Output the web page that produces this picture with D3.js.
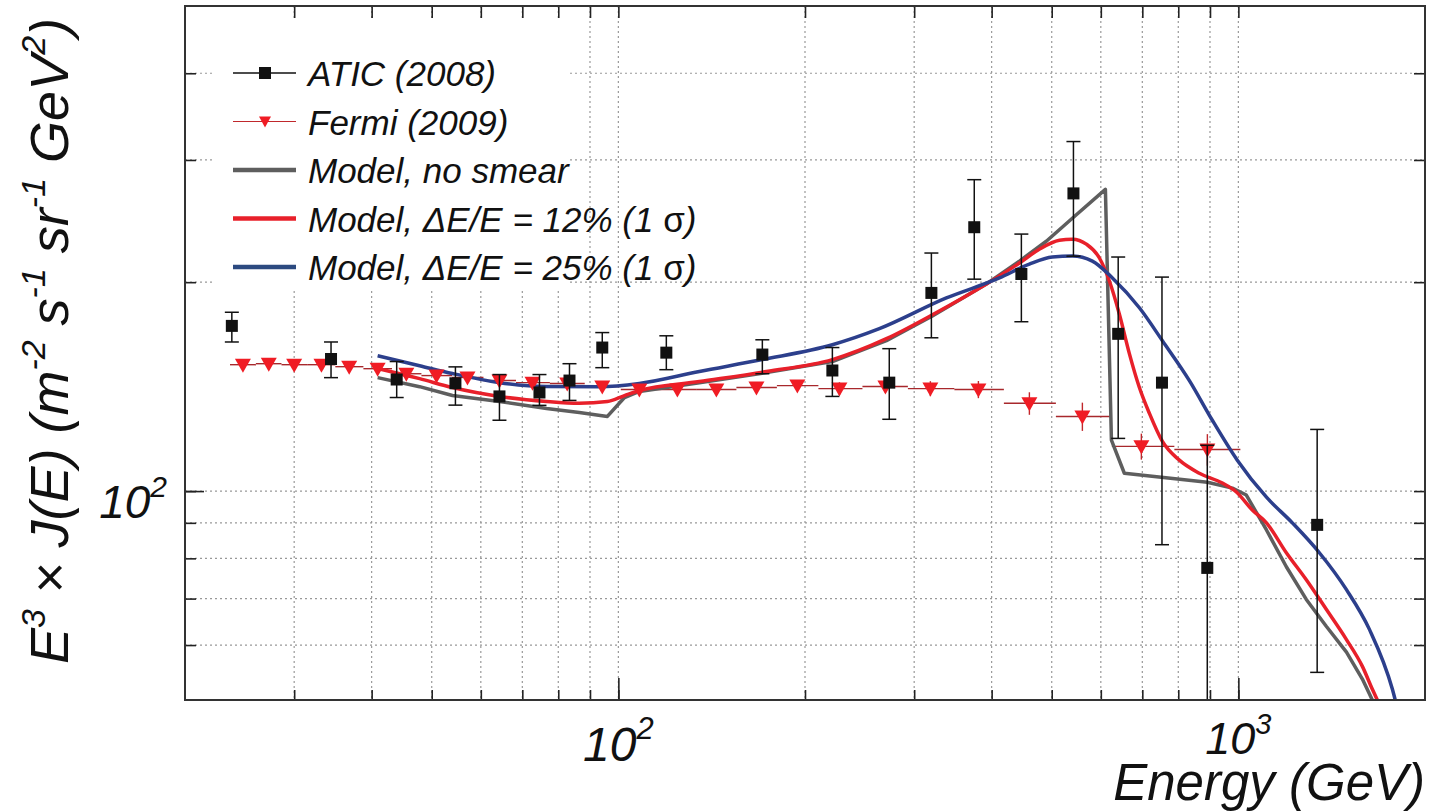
<!DOCTYPE html>
<meta charset="utf-8">
<style>
body { margin: 0; background: #fff; }
svg text { font-family: "Liberation Sans", Arial, sans-serif; font-style: italic; fill: #111; }
.grid line { stroke: #999; stroke-width: 1.2; stroke-dasharray: 2,3; }
.ticks line { stroke: #222; stroke-width: 1.6; }
</style>
<svg width="1431" height="812"></svg>
<script src="https://d3js.org/d3.v7.min.js"></script>
<script>

// ATIC (2008): energy, value, upper and lower ends of the error bar
var atEnergy = [23.8, 34.4, 43.9, 54.6, 64.3, 74.6, 83.4, 94.2, 119.5, 170.7, 221.4, 273.5, 319.8, 375, 446.7, 542, 640, 753, 891, 1340];
var atValue  = [173, 155, 144.8, 143, 136.9, 138.7, 144.3, 161, 158.3, 157.3, 149.2, 143.3, 193, 240, 205.5, 268.5, 168.5, 143.3, 77.5, 89.4];
var atHigh   = [181, 164, 153.7, 151, 147.2, 147.2, 152.6, 169.2, 167.4, 165.2, 161, 160.4, 220.3, 281, 234.6, 318.9, 217.4, 203.4, 116.4, 122.7];
var atLow    = [164, 145.7, 136.4, 133, 126.5, 132.9, 135.1, 150.6, 149.6, 147.6, 136.9, 126.9, 166.3, 202, 175.4, 218, 119.1, 83.7, 40, 54.8];

// Fermi (2009)
var fermiEnergy = [24.8, 27.3, 30.0, 33.2, 36.8, 40.9, 45.5, 50.9, 57.1, 64.3, 72.7, 82.7, 94.2, 108.1, 124.5, 143.9, 167.0, 194.4, 227.3, 269.6, 318.6, 380.8, 460.2, 560.3, 697.5, 891.3];
var fermiValue  = [152.1, 152.6, 152.1, 152.1, 151.1, 150.1, 147.6, 146.7, 145.8, 144.3, 143.3, 142.9, 141.5, 140.1, 140.1, 140.1, 141.0, 141.9, 140.5, 141.5, 140.5, 140.1, 133.8, 128.1, 116.0, 114.8];
var fermiErr    = [2, 2, 2, 2, 2, 2, 2, 2, 2, 2, 2, 2, 2, 2, 2, 2, 2.5, 2.5, 3, 3, 3.5, 4, 5, 6, 5, 6];

// model, no smear
var noSmearE = [40.9, 47.8, 54.0, 64.3, 76.6, 86.5, 96.0, 102.3, 108.1, 135.1, 173.3, 221.4, 270.6, 321.0, 392.3, 443.5, 490.1, 539.8, 610.3, 624.1, 654.8, 891.3, 977.9, 1030, 1110, 1195, 1287, 1387, 1494, 1585, 1657];
var noSmearV = [145.7, 141.4, 137.3, 134.6, 131.5, 129.8, 128.1, 136.4, 139.2, 143.3, 148.2, 153.7, 164.7, 178.8, 198.8, 214.5, 229.1, 247.3, 272.1, 118.4, 106.1, 103.0, 101.0, 98.7, 87.9, 77.8, 69.8, 63.8, 58.6, 53.6, 49.3];

// model, dE/E = 12%
var smear12E = [40.9, 47.8, 54.0, 64.3, 76.6, 86.5, 96.0, 102.3, 108.1, 135.1, 173.3, 221.4, 270.6, 321.0, 392.3, 443.5, 477.5, 514.4, 539.8, 568.6, 596.9, 619.4, 642.7, 667.1, 692.4, 718.7, 754.2, 803.2, 865.0, 942.3, 992.6, 1053, 1110, 1195, 1287, 1387, 1494, 1585, 1645, 1688];
var smear12V = [150.2, 145.2, 141.0, 136.9, 134.6, 133.8, 134.6, 137.3, 139.6, 143.8, 148.7, 154.7, 165.8, 179.5, 198.8, 213.1, 223.1, 229.9, 230.7, 226.9, 216.7, 200.8, 180.0, 157.8, 141.0, 129.4, 117.9, 110.8, 106.1, 102.7, 99.7, 93.9, 90.0, 81.5, 74.5, 67.5, 61.1, 55.9, 51.8, 49.3];

// model, dE/E = 25%
var smear25E = [40.9, 47.8, 54.0, 64.3, 76.6, 93.2, 108.1, 135.1, 170.7, 221.4, 263.6, 338.1, 411.7, 460.2, 501.2, 539.8, 581.5, 626.4, 692.4, 754.2, 833.7, 907.8, 996, 1110, 1222, 1351, 1494, 1627, 1772, 1798];
var smear25V = [156.7, 151.6, 147.7, 143.3, 141.5, 141.4, 142.9, 148.7, 154.7, 162.5, 171.4, 189.8, 202.8, 212.4, 217.4, 218.1, 214.5, 202.8, 183.7, 164.7, 144.3, 126.5, 110.8, 98.0, 90.0, 81.5, 72.1, 63.2, 51.8, 49.3];

var xGrid = [30, 40, 50, 60, 70, 80, 90, 100, 200, 300, 400, 500, 600, 700, 800, 900, 1000];
var xMajor = [100, 1000];
var yGrid = [60, 70, 80, 90, 100, 200, 300, 400];
var yMajor = [100];

var legendNames = ["ATIC (2008)", "Fermi (2009)", "Model, no smear", "Model, \u0394E/E = 12% (1 ", "Model, \u0394E/E = 25% (1 "];

var svg = d3.select("svg"),
    pLeft = 185, pRight = 1425, pTop = 6, pBottom = 700;

var x = d3.scaleLog().domain([20, 2000]).range([pLeft, pRight]);
var y = d3.scaleLog().domain([50, 500]).range([pBottom, pTop]);

svg.append("defs").append("clipPath").attr("id", "plot")
  .append("rect").attr("x", pLeft).attr("y", pTop).attr("width", pRight - pLeft).attr("height", pBottom - pTop);

// grid
var grid = svg.append("g").attr("class", "grid");
grid.selectAll(".gx").data(xGrid).enter().append("line")
    .attr("x1", function(d) { return x(d); }).attr("x2", function(d) { return x(d); })
    .attr("y1", pTop).attr("y2", pBottom);
grid.selectAll(".gy").data(yGrid).enter().append("line")
    .attr("x1", pLeft).attr("x2", pRight)
    .attr("y1", function(d) { return y(d); }).attr("y2", function(d) { return y(d); });

// legend background hides the grid behind it
svg.append("rect").attr("x", 213).attr("y", 18).attr("width", 357).attr("height", 272).attr("fill", "#fff");

// inward ticks on all four sides
function noDomain(g) { g.select(".domain").remove(); g.attr("class", "ticks"); }
svg.append("g").attr("transform", "translate(0," + pBottom + ")")
  .call(d3.axisBottom(x).tickValues(xGrid).tickSize(-10).tickFormat("")).call(noDomain);
svg.append("g").attr("transform", "translate(0," + pBottom + ")")
  .call(d3.axisBottom(x).tickValues(xMajor).tickSize(-22).tickFormat("")).call(noDomain);
svg.append("g").attr("transform", "translate(0," + pTop + ")")
  .call(d3.axisTop(x).tickValues(xGrid).tickSize(-12).tickFormat("")).call(noDomain);
svg.append("g").attr("transform", "translate(" + pLeft + ",0)")
  .call(d3.axisLeft(y).tickValues(yGrid).tickSize(-11).tickFormat("")).call(noDomain);
svg.append("g").attr("transform", "translate(" + pLeft + ",0)")
  .call(d3.axisLeft(y).tickValues(yMajor).tickSize(-19).tickFormat("")).call(noDomain);
svg.append("g").attr("transform", "translate(" + pRight + ",0)")
  .call(d3.axisRight(y).tickValues(yGrid).tickSize(-11).tickFormat("")).call(noDomain);

// plot contents
var plot = svg.append("g").attr("clip-path", "url(#plot)");

// Fermi horizontal bin bars
var fermiEdges = fermiEnergy.map(function(e, i) {
  var lo = i > 0 ? Math.sqrt(e * fermiEnergy[i - 1]) : e * e / Math.sqrt(e * fermiEnergy[i + 1]);
  var hi = i < fermiEnergy.length - 1 ? Math.sqrt(e * fermiEnergy[i + 1]) : e * e / Math.sqrt(e * fermiEnergy[i - 1]);
  return [lo, hi];
});
plot.append("g").selectAll("line").data(fermiEnergy).enter().append("line")
    .attr("x1", function(d, i) { return x(fermiEdges[i][0]); })
    .attr("x2", function(d, i) { return x(fermiEdges[i][1]); })
    .attr("y1", function(d, i) { return y(fermiValue[i]); })
    .attr("y2", function(d, i) { return y(fermiValue[i]); })
    .attr("stroke", "#a8282c").attr("stroke-width", 1.4);

function zip(a, b) { return a.map(function(d, i) { return [d, b[i]]; }); }
var lineLin = d3.line().x(function(d) { return x(d[0]); }).y(function(d) { return y(d[1]); });
var lineSmooth = d3.line().curve(d3.curveMonotoneX).x(function(d) { return x(d[0]); }).y(function(d) { return y(d[1]); });

plot.append("path").datum(zip(noSmearE, noSmearV)).attr("d", lineLin)
    .attr("fill", "none").attr("stroke", "#5e5e5e").attr("stroke-width", 3.5).attr("stroke-linejoin", "round");
plot.append("path").datum(zip(smear12E, smear12V)).attr("d", lineSmooth)
    .attr("fill", "none").attr("stroke", "#e8202a").attr("stroke-width", 3.5);
plot.append("path").datum(zip(smear25E, smear25V)).attr("d", lineSmooth)
    .attr("fill", "none").attr("stroke", "#2c3f8c").attr("stroke-width", 3.5);

// Fermi vertical errors and triangles
plot.append("g").selectAll("line").data(fermiEnergy).enter().append("line")
    .attr("x1", function(d) { return x(d); }).attr("x2", function(d) { return x(d); })
    .attr("y1", function(d, i) { return y(fermiValue[i] + fermiErr[i]); })
    .attr("y2", function(d, i) { return y(fermiValue[i] - fermiErr[i]); })
    .attr("stroke", "#c0282c").attr("stroke-width", 1.4);
var tri = "M-8,-6L8,-6L0,8Z";
plot.append("g").selectAll("path").data(fermiEnergy).enter().append("path")
    .attr("d", tri)
    .attr("transform", function(d, i) { return "translate(" + x(d) + "," + y(fermiValue[i]) + ")"; })
    .attr("fill", "#f01c24");

// ATIC error bars and squares
var atic = plot.append("g").attr("stroke", "#111").attr("stroke-width", 1.5);
atic.selectAll(".v").data(atEnergy).enter().append("line")
    .attr("x1", function(d) { return x(d); }).attr("x2", function(d) { return x(d); })
    .attr("y1", function(d, i) { return y(atHigh[i]); })
    .attr("y2", function(d, i) { return y(atLow[i]); });
atic.selectAll(".ch").data(atEnergy).enter().append("line")
    .attr("x1", function(d) { return x(d) - 7; }).attr("x2", function(d) { return x(d) + 7; })
    .attr("y1", function(d, i) { return y(atHigh[i]); })
    .attr("y2", function(d, i) { return y(atHigh[i]); });
atic.selectAll(".cl").data(atEnergy).enter().append("line")
    .attr("x1", function(d) { return x(d) - 7; }).attr("x2", function(d) { return x(d) + 7; })
    .attr("y1", function(d, i) { return y(atLow[i]); })
    .attr("y2", function(d, i) { return y(atLow[i]); });
plot.append("g").selectAll("rect").data(atEnergy).enter().append("rect")
    .attr("x", function(d) { return x(d) - 6; })
    .attr("y", function(d, i) { return y(atValue[i]) - 6; })
    .attr("width", 12).attr("height", 12).attr("fill", "#111");

// frame
svg.append("rect").attr("x", pLeft).attr("y", pTop).attr("width", pRight - pLeft).attr("height", pBottom - pTop)
    .attr("fill", "none").attr("stroke", "#333").attr("stroke-width", 2);

// text with superscripts
function richText(t, parts, size, supSize, shift) {
  var up = false;
  parts.forEach(function(p) {
    var s = t.append("tspan").text(p[0]);
    if (p[1]) {
      s.attr("font-size", supSize).attr("dy", up ? 0 : -shift);
      up = true;
    } else {
      s.attr("font-size", size).attr("dy", up ? shift : 0);
      up = false;
    }
  });
}

// tick labels
richText(svg.append("text").attr("x", x(100)).attr("y", 761).attr("text-anchor", "middle"),
  [["10"], ["2", true]], 48, 31, 22);
richText(svg.append("text").attr("x", x(1000)).attr("y", 754).attr("text-anchor", "middle"),
  [["10"], ["3", true]], 45, 29, 20);
richText(svg.append("text").attr("x", 167).attr("y", 518).attr("text-anchor", "end"),
  [["10"], ["2", true]], 46, 30, 21);

// axis titles
svg.append("text").attr("x", 1425).attr("y", 800).attr("text-anchor", "end")
    .attr("font-size", 51).text("Energy (GeV)");
richText(svg.append("text").attr("transform", "translate(68,341) rotate(-90)").attr("text-anchor", "middle"),
  [["E"], ["3", true], [" \u00d7 J(E) (m"], ["-2", true], [" s"], ["-1", true], [" sr"], ["-1", true], [" GeV"], ["2", true], [")"]],
  54, 34, 23);

// legend
var lg = svg.append("g");
var rowY = function(i) { return 73 + i * 48.5; };
lg.selectAll("text").data(legendNames).enter().append("text")
    .attr("x", 308).attr("y", function(d, i) { return rowY(i) + 13; })
    .attr("font-size", 35)
    .each(function(d, i) {
      var t = d3.select(this).text(d);
      if (i >= 3) {
        t.append("tspan").attr("font-style", "normal").text("\u03c3");
        t.append("tspan").text(")");
      }
    });
lg.append("line").attr("x1", 233).attr("x2", 296).attr("y1", rowY(0)).attr("y2", rowY(0)).attr("stroke", "#111").attr("stroke-width", 1.6);
lg.append("rect").attr("x", 259).attr("y", rowY(0) - 6).attr("width", 12).attr("height", 12).attr("fill", "#111");
lg.append("line").attr("x1", 233).attr("x2", 296).attr("y1", rowY(1)).attr("y2", rowY(1)).attr("stroke", "#c0282c").attr("stroke-width", 1.2);
lg.append("path").attr("d", "M-6,-5L6,-5L0,6Z").attr("transform", "translate(265," + rowY(1) + ")").attr("fill", "#f01c24");
[["#5e5e5e", 2], ["#e8202a", 3], ["#2c4a80", 4]].forEach(function(c) {
  lg.append("line").attr("x1", 233).attr("x2", 296).attr("y1", rowY(c[1])).attr("y2", rowY(c[1]))
    .attr("stroke", c[0]).attr("stroke-width", 4.5);
});

</script>
